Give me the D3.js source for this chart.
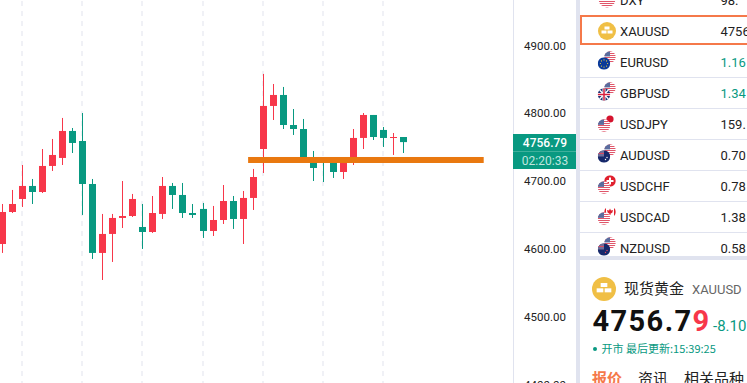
<!DOCTYPE html>
<html><head><meta charset="utf-8">
<script src="https://cdn.jsdelivr.net/npm/d3@7"></script>
<style>html,body{margin:0;padding:0;background:#fff;overflow:hidden}svg{display:block}text{font-family:"Noto Sans CJK SC","Noto Sans",sans-serif}</style>
</head><body><svg id="c" width="747" height="383"></svg>
<script>
const opens=[4606.5,4653.7,4672.9,4692.1,4683.2,4721.6,4733.4,4773.2,4758.4,4695.0,4593.3,4621.3,4644.9,4647.8,4631.6,4624.2,4650.8,4692.1,4678.8,4652.2,4658.2,4625.7,4641.9,4669.9,4643.4,4674.4,4746.6,4810.1,4826.3,4782.0,4776.1,4727.5,4731.9,4728.9,4712.7,4728.9,4762.9,4796.8,4774.7,4762.9,4764.3];
const closes=[4653.7,4665.5,4692.1,4683.2,4721.6,4737.8,4773.2,4755.5,4695.0,4593.3,4621.3,4644.9,4647.8,4672.9,4624.2,4652.2,4692.1,4678.8,4652.2,4649.3,4625.7,4641.9,4669.9,4643.4,4674.4,4705.3,4810.1,4826.3,4782.0,4776.1,4727.5,4718.6,4727.5,4712.7,4728.9,4762.9,4796.8,4764.3,4762.9,4764.3,4756.79];
const highs=[4665.5,4686.2,4723.0,4702.4,4746.6,4761.4,4792.4,4777.6,4799.7,4702.4,4650.8,4650.8,4699.4,4680.3,4665.5,4677.3,4705.3,4696.5,4696.5,4665.5,4667.0,4662.6,4693.5,4677.3,4684.7,4717.2,4857.3,4842.5,4838.1,4805.6,4790.9,4743.7,4734.8,4733.4,4731.9,4776.1,4799.7,4796.8,4779.1,4770.2,4764.3];
const lows=[4593.3,4652.2,4661.1,4665.5,4681.7,4714.2,4723.0,4740.7,4649.3,4584.4,4553.4,4580.0,4630.1,4646.3,4599.2,4622.8,4643.4,4658.2,4644.9,4644.9,4615.4,4618.3,4636.0,4628.7,4606.5,4656.7,4711.2,4789.4,4776.1,4767.3,4727.5,4699.4,4697.9,4703.9,4702.4,4723.0,4746.6,4759.9,4749.6,4737.8,4740.7];
const gridIdx=[2,8,14,20,26,32,38];
const yTicks=[4900,4800,4700,4600,4500,4400];
const lastPrice=4756.79, countdown="02:20:33", levelPrice=4730.4, levelFrom=24.5, levelTo=48;
const symbols=["DXY","XAUUSD","EURUSD","GBPUSD","USDJPY","AUDUSD","USDCHF","USDCAD","NZDUSD"];
const quotes=["98.","4756","1.16","1.34","159.","0.70","0.78","1.38","0.58"];
const risingSymbols=["EURUSD","GBPUSD"];

const RED="#f7374a",GREEN="#089981",GRAY="#e0e3ef",ORANGE="#f5794a";
const svg=d3.select("#c");
const defs=svg.append("defs");
const x=d3.scaleLinear().domain([0,40]).range([2.5,403.5]);
const y=d3.scaleLinear().domain([4900,4400]).range([45,384]);
const sx=i=>Math.floor(x(i))+.5;
const up=i=>closes[i]>=opens[i];

svg.append("g").selectAll("line").data(gridIdx).join("line")
 .attr("x1",d=>sx(d)-.5).attr("x2",d=>sx(d)-.5).attr("y1",1).attr("y2",383)
 .attr("stroke","#f0f1f6").attr("stroke-width",2).attr("stroke-dasharray","5 5");

const idx=d3.range(opens.length);
const c=svg.append("g");
c.selectAll(".w").data(idx).join("line").attr("x1",sx).attr("x2",sx)
 .attr("y1",i=>y(highs[i])).attr("y2",i=>y(lows[i]))
 .attr("stroke",i=>up(i)?RED:GREEN).attr("stroke-width",1);
c.selectAll(".b").data(idx).join("rect")
 .attr("x",i=>sx(i)-3.5).attr("width",7)
 .attr("y",i=>y(Math.max(opens[i],closes[i])))
 .attr("height",i=>Math.max(1,Math.abs(y(opens[i])-y(closes[i]))))
 .attr("fill",i=>up(i)?RED:GREEN);

svg.append("rect").attr("x",x(levelFrom)).attr("width",x(levelTo)-x(levelFrom)).attr("y",y(levelPrice)-3).attr("height",6).attr("fill","#e9780f");

// axis
const R="Roboto,sans-serif";
svg.append("rect").attr("x",513).attr("y",0).attr("width",1).attr("height",383).attr("fill",GRAY);
svg.append("g").selectAll("text").data(yTicks).join("text")
 .attr("x",545).attr("y",d=>y(d)+4.5).attr("text-anchor","middle").attr("font-size",11.5).attr("fill","#222")
 .style("font-family",R).text(d=>d.toFixed(2));
svg.append("rect").attr("x",513).attr("y",134).attr("width",63).attr("height",35).attr("fill",GREEN);
svg.append("rect").attr("x",513).attr("y",151).attr("width",63).attr("height",1).attr("fill","#3fb09c");
svg.append("text").attr("x",545).attr("y",y(lastPrice)+5).attr("text-anchor","middle").attr("font-size",12).attr("font-weight",500).attr("fill","#fff").style("font-family",R).text(lastPrice.toFixed(2));
svg.append("text").attr("x",545).attr("y",165).attr("text-anchor","middle").attr("font-size",12).attr("fill","#bfe6df").style("font-family",R).text(countdown);

// side panel
svg.append("rect").attr("x",576).attr("y",0).attr("width",171).attr("height",383).attr("fill",GRAY);
svg.append("rect").attr("x",580).attr("y",0).attr("width",167).attr("height",256).attr("fill","#fff");
svg.append("rect").attr("x",580).attr("y",260).attr("width",167).attr("height",123).attr("fill","#fff");

let clipN=0;
function disc(parent,cx,cy,r,bg){
  const id="f"+(clipN++);
  defs.append("clipPath").attr("id",id).append("circle").attr("cx",cx).attr("cy",cy).attr("r",r);
  const g=parent.append("g").attr("clip-path",`url(#${id})`);
  g.append("rect").attr("x",cx-r).attr("y",cy-r).attr("width",2*r).attr("height",2*r).attr("fill",bg);
  return g;
}
function us(parent,cx,cy,r){
  const g=disc(parent,cx,cy,r,"#fff");
  d3.range(Math.round(cy-r),cy+r,2).forEach(v=>g.append("rect").attr("x",cx-r).attr("y",v).attr("width",2*r).attr("height",1).attr("fill","#e0566a"));
  g.append("rect").attr("x",cx-r).attr("y",cy-r).attr("width",r).attr("height",r*.9).attr("fill","#5a6c9e");
}
function flag(parent,code,cx,cy,r){
  if(code==="USD"){us(parent,cx,cy,r);return;}
  if(code==="EUR"){
    const g=disc(parent,cx,cy,r,"#0a3a9a");
    d3.range(8).forEach(k=>g.append("circle").attr("cx",cx+3.6*Math.cos(k*Math.PI/4)).attr("cy",cy+3.6*Math.sin(k*Math.PI/4)).attr("r",.6).attr("fill","#f3d23a"));
  } else if(code==="GBP"){
    const g=disc(parent,cx,cy,r,"#1d2f6f");
    g.append("line").attr("x1",cx-r).attr("x2",cx+r).attr("y1",cy-r).attr("y2",cy+r).attr("stroke","#fff").attr("stroke-width",1.5);
    g.append("line").attr("x1",cx-r).attr("x2",cx+r).attr("y1",cy+r).attr("y2",cy-r).attr("stroke","#fff").attr("stroke-width",1.5);
    g.append("rect").attr("x",cx-r).attr("y",cy-1.5).attr("width",2*r).attr("height",3).attr("fill","#fff");
    g.append("rect").attr("x",cx-1.5).attr("y",cy-r).attr("width",3).attr("height",2*r).attr("fill","#fff");
    g.append("rect").attr("x",cx-r).attr("y",cy-.75).attr("width",2*r).attr("height",1.5).attr("fill","#d81e3c");
    g.append("rect").attr("x",cx-.75).attr("y",cy-r).attr("width",1.5).attr("height",2*r).attr("fill","#d81e3c");
  } else if(code==="AUD"||code==="NZD"){
    const g=disc(parent,cx,cy,r,"#16286a");
    g.append("rect").attr("x",cx-r).attr("y",cy-r).attr("width",r).attr("height",r).attr("fill","#6f6f9a");
    g.append("rect").attr("x",cx-r).attr("y",cy-r/2-.5).attr("width",r).attr("height",1).attr("fill","#e6455a");
    g.append("circle").attr("cx",cx+3).attr("cy",cy+1).attr("r",.7).attr("fill",code==="NZD"?"#e6455a":"#fff");
    g.append("circle").attr("cx",cx+1.5).attr("cy",cy+3).attr("r",.7).attr("fill",code==="NZD"?"#e6455a":"#fff");
  } else if(code==="JPY"){
    const g=disc(parent,cx,cy,r,"#fff");
    g.append("circle").attr("cx",cx).attr("cy",cy).attr("r",3.6).attr("fill","#d5142e");
  } else if(code==="CHF"){
    const g=disc(parent,cx,cy,r,"#e0202e");
    g.append("rect").attr("x",cx-1).attr("y",cy-3.5).attr("width",2).attr("height",7).attr("fill","#fff");
    g.append("rect").attr("x",cx-3.5).attr("y",cy-1).attr("width",7).attr("height",2).attr("fill","#fff");
  } else if(code==="CAD"){
    const g=disc(parent,cx,cy,r,"#fff");
    g.append("rect").attr("x",cx-r).attr("y",cy-r).attr("width",1.8).attr("height",2*r).attr("fill","#e0202e");
    g.append("rect").attr("x",cx+r-1.8).attr("y",cy-r).attr("width",1.8).attr("height",2*r).attr("fill","#e0202e");
    g.append("path").attr("d",`M${cx},${cy-3.5}L${cx+1},${cy-1.5}L${cx+3},${cy-2}L${cx+2.4},${cy+.5}L${cx+.5},${cy+1.8}L${cx+.5},${cy+3}L${cx-.5},${cy+3}L${cx-.5},${cy+1.8}L${cx-2.4},${cy+.5}L${cx-3},${cy-2}L${cx-1},${cy-1.5}Z`).attr("fill","#e0202e");
  }
}
function gold(parent,cx,cy,r){
  const u=r/9;
  parent.append("circle").attr("cx",cx).attr("cy",cy).attr("r",r).attr("fill","#f0bf45");
  parent.append("rect").attr("x",cx-2.5*u).attr("y",cy-4.5*u).attr("width",5*u).attr("height",3*u).attr("fill","#fff");
  parent.append("rect").attr("x",cx-5.5*u).attr("y",cy-.5*u).attr("width",5*u).attr("height",3*u).attr("fill","#fff");
  parent.append("rect").attr("x",cx+.5*u).attr("y",cy-.5*u).attr("width",5*u).attr("height",3*u).attr("fill","#fff");
}

const rowY=d3.scaleLinear().domain([0,8]).range([0,248]);
const list=svg.append("g");
symbols.forEach((s,i)=>{
  const cy=rowY(i);
  if(i>=3) list.append("rect").attr("x",580).attr("y",cy-16).attr("width",167).attr("height",1).attr("fill",GRAY);
  if(s==="XAUUSD") gold(list,607,cy,9);
  else if(s==="DXY") us(list,607,cy-1,8.5);
  else {
    const base=s.slice(0,3),quote=s.slice(3);
    const backCode=base==="USD"?quote:"USD", frontCode=base==="USD"?"USD":base;
    flag(list,backCode,610,cy-5,5.8);
    flag(list,frontCode,604,cy+1.5,6.2);
  }
  list.append("text").attr("x",620).attr("y",cy+4.5).attr("font-size",13).attr("fill","#222").style("font-family",R).text(s);
  list.append("text").attr("x",720.5).attr("y",cy+4.5).attr("font-size",13).attr("fill",risingSymbols.includes(s)?GREEN:"#222").style("font-family",R).text(quotes[i]);
});
svg.append("rect").attr("x",581).attr("y",16).attr("width",172).attr("height",28).attr("fill","none").attr("stroke",ORANGE).attr("stroke-width",2);

// detail
const dg=svg.append("g");
gold(dg,604,289,12);
dg.append("text").attr("x",624).attr("y",294).attr("font-size",15).attr("fill","#222").text("现货黄金");
dg.append("text").attr("x",692).attr("y",293.5).attr("font-size",13).attr("fill","#666").style("font-family",R).text("XAUUSD");
const big=dg.append("text").attr("x",592.5).attr("y",331).attr("font-size",29).attr("font-weight",700).attr("letter-spacing",1.4).attr("fill","#111").style("font-family",R);
big.append("tspan").text("4756.7");big.append("tspan").attr("fill",RED).text("9");
dg.append("text").attr("x",713).attr("y",331).attr("font-size",15).attr("fill",GREEN).style("font-family",R).text("-8.10");
dg.append("circle").attr("cx",595).attr("cy",349).attr("r",2).attr("fill",GREEN);
dg.append("text").attr("x",601.5).attr("y",353).attr("font-size",11).attr("fill",GREEN).text("开市 最后更新:15:39:25");
dg.append("text").attr("x",592).attr("y",384).attr("font-size",15).attr("font-weight",700).attr("fill",ORANGE).text("报价");
dg.append("text").attr("x",638).attr("y",384).attr("font-size",15).attr("fill","#222").text("资讯");
dg.append("text").attr("x",684).attr("y",384).attr("font-size",15).attr("fill","#222").text("相关品种");
</script></body></html>
